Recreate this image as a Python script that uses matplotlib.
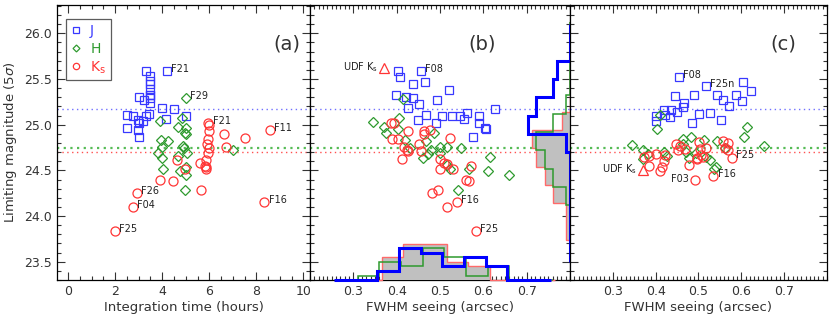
import numpy as np
import matplotlib
matplotlib.use('Agg')
import matplotlib.pyplot as plt
from matplotlib.ticker import MultipleLocator, FormatStrFormatter

# ---- panel (a): limiting magnitude vs integration time
j_time = [3.32, 4.20, 3.50, 3.50, 3.50, 3.50, 3.50, 3.46, 3.49, 3.02, 3.23, 3.46, 2.50,
          2.75, 2.96, 3.03, 3.17, 3.30, 3.43, 2.52, 2.96, 3.02, 4.01, 4.50, 4.17, 5.00]
j_mag_a = [25.59, 25.59, 25.53, 25.48, 25.44, 25.39, 25.33, 25.33, 25.29, 25.30, 25.27, 25.24, 25.11,
           25.09, 25.05, 25.02, 25.04, 25.10, 25.12, 24.96, 24.94, 24.87, 25.18, 25.17, 25.06, 25.09]
h_time = [5.02, 3.89, 4.86, 4.67, 5.02, 4.98, 5.02, 3.96, 4.23, 4.01, 4.87, 4.93, 5.04,
          3.84, 3.98, 4.69, 6.99, 4.05, 5.02, 4.77, 5.00, 4.98]
h_mag_a = [25.29, 25.04, 25.07, 24.97, 24.96, 24.91, 24.90, 24.83, 24.82, 24.76, 24.77, 24.74, 24.69,
           24.69, 24.64, 24.66, 24.72, 24.52, 24.54, 24.49, 24.45, 24.29]
k_time = [5.96, 5.97, 5.98, 5.94, 5.89, 5.98, 5.94, 6.61, 7.50, 6.72, 8.57, 5.60, 5.84,
          5.80, 5.88, 5.88, 4.98, 4.63, 3.90, 4.46, 5.65, 2.92, 2.75, 2.00, 8.34]
k_mag_a = [25.02, 25.00, 24.93, 24.84, 24.79, 24.74, 24.69, 24.90, 24.85, 24.76, 24.94, 24.58, 24.61,
           24.55, 24.52, 24.54, 24.52, 24.61, 24.40, 24.38, 24.29, 24.25, 24.10, 23.84, 24.15]

# ---- panel (b): limiting magnitude vs FWHM seeing
j_fwhm_b = [0.402, 0.456, 0.408, 0.437, 0.466, 0.520, 0.399, 0.421, 0.437, 0.452, 0.494, 0.425, 0.626,
            0.467, 0.450, 0.504, 0.491, 0.528, 0.547, 0.556, 0.562, 0.591, 0.591, 0.606, 0.604, 0.575]
j_mag_b = [25.59, 25.59, 25.52, 25.44, 25.47, 25.38, 25.33, 25.30, 25.29, 25.23, 25.27, 25.18, 25.17,
           25.11, 25.05, 25.09, 25.02, 25.10, 25.09, 25.06, 25.13, 25.10, 25.02, 24.95, 24.96, 24.87]
h_fwhm_b = [0.346, 0.414, 0.406, 0.371, 0.375, 0.404, 0.486, 0.420, 0.467, 0.431, 0.500, 0.517,
            0.548, 0.479, 0.499, 0.460, 0.472, 0.616, 0.568, 0.611, 0.658, 0.524, 0.541, 0.517]
h_mag_b = [25.03, 25.28, 25.07, 24.98, 24.91, 24.95, 24.91, 24.83, 24.82, 24.74, 24.76, 24.76,
           24.74, 24.72, 24.69, 24.64, 24.68, 24.65, 24.52, 24.49, 24.45, 24.51, 24.29, 24.56]
k_fwhm_b = [0.387, 0.393, 0.426, 0.462, 0.476, 0.464, 0.389, 0.402, 0.522, 0.451, 0.418, 0.424, 0.426, 0.456,
            0.413, 0.499, 0.510, 0.515, 0.500, 0.531, 0.572, 0.560, 0.568, 0.495, 0.481, 0.539, 0.515, 0.583]
k_mag_b = [25.02, 25.02, 24.93, 24.93, 24.94, 24.90, 24.84, 24.84, 24.85, 24.79, 24.76, 24.72, 24.71, 24.71,
           24.62, 24.62, 24.58, 24.57, 24.52, 24.52, 24.55, 24.40, 24.38, 24.29, 24.25, 24.15, 24.10, 23.84]
udf_fwhm_b = 0.37
udf_mag_b = 25.62

# ---- panel (c)
j_fwhm_c = [0.454, 0.517, 0.604, 0.623, 0.588, 0.544, 0.490, 0.446, 0.558, 0.602, 0.571, 0.467,
            0.464, 0.450, 0.436, 0.420, 0.422, 0.401, 0.402, 0.434, 0.501, 0.526, 0.486, 0.552]
j_mag_c = [25.52, 25.42, 25.47, 25.37, 25.33, 25.33, 25.33, 25.31, 25.27, 25.26, 25.21, 25.24,
           25.19, 25.14, 25.16, 25.16, 25.11, 25.10, 25.04, 25.08, 25.12, 25.13, 25.02, 25.05]
h_fwhm_c = [0.345, 0.403, 0.411, 0.613, 0.607, 0.654, 0.463, 0.483, 0.512, 0.543, 0.563, 0.370,
            0.382, 0.420, 0.427, 0.465, 0.470, 0.494, 0.478, 0.517, 0.526, 0.540, 0.371, 0.536]
h_mag_c = [24.78, 24.95, 25.11, 24.97, 24.86, 24.77, 24.84, 24.86, 24.83, 24.82, 24.74, 24.72,
           24.68, 24.70, 24.66, 24.79, 24.70, 24.69, 24.63, 24.65, 24.61, 24.54, 24.62, 24.52]
k_fwhm_c = [0.557, 0.568, 0.562, 0.568, 0.578, 0.447, 0.457, 0.453, 0.468, 0.503, 0.501, 0.517, 0.506, 0.511,
            0.497, 0.401, 0.385, 0.373, 0.421, 0.419, 0.416, 0.410, 0.385, 0.478, 0.496, 0.535, 0.491]
k_mag_c = [24.82, 24.80, 24.75, 24.72, 24.64, 24.79, 24.77, 24.72, 24.73, 24.73, 24.81, 24.75, 24.67, 24.65,
           24.64, 24.68, 24.66, 24.65, 24.67, 24.60, 24.54, 24.49, 24.55, 24.56, 24.62, 24.44, 24.39]
udf_fwhm_c = 0.37
udf_mag_c = 24.50

# median limits (dotted lines)
j_median = 25.17
h_median = 24.74
k_median = 24.70

# ---- histograms in panel (b): number of fields
j_seeing_edges = [0.255, 0.305, 0.355, 0.405, 0.455, 0.505, 0.555, 0.605, 0.655, 0.705, 0.755]
j_seeing_counts = [0, 0, 2, 7, 6, 3, 5, 3, 0, 0]
h_seeing_edges = [0.26, 0.31, 0.36, 0.41, 0.46, 0.51, 0.56, 0.61, 0.66, 0.71, 0.76]
h_seeing_counts = [0, 1, 4, 3, 7, 5, 1, 3, 0, 0]
k_seeing_edges = [0.265, 0.315, 0.365, 0.415, 0.465, 0.515, 0.565, 0.615, 0.665, 0.715, 0.765]
k_seeing_counts = [0, 0, 5, 8, 8, 4, 3, 0, 0, 0]

j_mag_edges = [23.5, 23.7, 23.9, 24.1, 24.3, 24.5, 24.7, 24.9, 25.1, 25.3, 25.5, 25.7, 25.9, 26.1]
j_mag_counts = [0, 0, 0, 0, 0, 0, 1, 10, 8, 4, 3, 0, 0]
h_mag_edges = [23.52, 23.72, 23.92, 24.12, 24.32, 24.52, 24.72, 24.92, 25.12, 25.32, 25.52, 25.72, 25.92, 26.12]
h_mag_counts = [0, 0, 0, 1, 4, 6, 8, 4, 1, 0, 0, 0, 0]
k_mag_edges = [23.54, 23.74, 23.94, 24.14, 24.34, 24.54, 24.74, 24.94, 25.14, 25.34, 25.54, 25.74, 25.94, 26.14]
k_mag_counts = [0, 1, 1, 4, 6, 8, 9, 2, 0, 0, 0, 0, 0]

CJ = '#3838ff'
CH = '#2e9a2e'
CK = '#ff3535'
TXT = '#333333'

plt.rcParams['font.family'] = ['DejaVu Sans']
plt.rcParams['text.color'] = TXT
plt.rcParams['axes.labelcolor'] = TXT
plt.rcParams['xtick.color'] = TXT
plt.rcParams['ytick.color'] = TXT

fig = plt.figure(figsize=(8.3, 3.23), dpi=100)
H = 0.8514
B = 0.1331
ax_a = fig.add_axes([0.0687, B, 0.3048, H])
ax_b = fig.add_axes([0.3735, B, 0.3133, H])
ax_c = fig.add_axes([0.6867, B, 0.3096, H])

YLIM = (23.3, 26.31)


def style(ax):
    ax.set_ylim(*YLIM)
    ax.yaxis.set_major_locator(MultipleLocator(0.5))
    ax.yaxis.set_minor_locator(MultipleLocator(0.1))
    ax.tick_params(which='both', direction='in', top=True, right=True, labelsize=9, width=0.8)
    ax.tick_params(which='major', length=6)
    ax.tick_params(which='minor', length=3)
    for s in ax.spines.values():
        s.set_linewidth(0.9)


def medians(ax):
    ax.axhline(j_median, color='#7070ff', ls=(0, (1, 2.5)), lw=1.0, zorder=1)
    ax.axhline(h_median, color='#55bb55', ls=(0, (1, 2)), lw=1.6, zorder=1)
    ax.axhline(k_median, color='#ff5050', ls=(0, (1, 2.5)), lw=1.0, zorder=1)


def points(ax, jx, jy, hx, hy, kx, ky):
    ax.plot(jx, jy, ls='none', marker='s', ms=5.5, mfc='none', mec=CJ, mew=0.9, label='J')
    ax.plot(hx, hy, ls='none', marker='D', ms=5.0, mfc='none', mec=CH, mew=0.9, label='H')
    ax.plot(kx, ky, ls='none', marker='o', ms=6.5, mfc='none', mec=CK, mew=0.9, label='K$_\\mathregular{s}$')


def tag(ax, x, y, s, left=False):
    if left:
        ax.annotate(s, (x, y), xytext=(-4, 1), textcoords='offset points',
                    ha='right', va='center', fontsize=7, color='#222222')
    else:
        ax.annotate(s, (x, y), xytext=(3, 1.5), textcoords='offset points',
                    ha='left', va='center', fontsize=7, color='#222222')


# (a)
style(ax_a)
medians(ax_a)
points(ax_a, j_time, j_mag_a, h_time, h_mag_a, k_time, k_mag_a)
ax_a.set_xlim(-0.47, 10.28)
ax_a.xaxis.set_major_locator(MultipleLocator(2))
ax_a.xaxis.set_minor_locator(MultipleLocator(0.5))
ax_a.yaxis.set_major_formatter(FormatStrFormatter('%.1f'))
ax_a.set_xlabel('Integration time (hours)', fontsize=9.5, labelpad=2)
ax_a.set_ylabel('Limiting magnitude (5$\\sigma$)', fontsize=9.5, labelpad=4)
ax_a.text(0.91, 0.86, '(a)', transform=ax_a.transAxes, fontsize=14, ha='center', va='center')
leg = ax_a.legend(loc='upper left', bbox_to_anchor=(0.035, 0.948), fontsize=10, frameon=True,
                  fancybox=False, edgecolor='#333333', handlelength=0.8, handletextpad=0.6,
                  borderpad=0.35, labelspacing=0.25, borderaxespad=0, markerscale=0.7,
                  labelcolor='markeredgecolor')
leg.get_frame().set_linewidth(0.9)
tag(ax_a, j_time[1], j_mag_a[1], 'F21')
tag(ax_a, h_time[0], h_mag_a[0], 'F29')
tag(ax_a, k_time[0], k_mag_a[0], 'F21')
tag(ax_a, k_time[10], k_mag_a[10], 'F11')
tag(ax_a, k_time[21], k_mag_a[21], 'F26')
tag(ax_a, k_time[22], k_mag_a[22], 'F04')
tag(ax_a, k_time[23], k_mag_a[23], 'F25')
tag(ax_a, k_time[24], k_mag_a[24], 'F16')

for ax in (ax_b, ax_c):
    style(ax)
    medians(ax)
    ax.set_xlim(0.2, 0.8)
    ax.set_xticks([0.3, 0.4, 0.5, 0.6, 0.7])
    ax.xaxis.set_major_formatter(FormatStrFormatter('%.1f'))
    ax.xaxis.set_minor_locator(MultipleLocator(0.01))
    ax.set_yticklabels([])
    ax.set_xlabel('FWHM seeing (arcsec)', fontsize=9.5, labelpad=2)

# (b)
points(ax_b, j_fwhm_b, j_mag_b, h_fwhm_b, h_mag_b, k_fwhm_b, k_mag_b)
ax_b.plot(udf_fwhm_b, udf_mag_b, ls='none', marker='^', ms=7, mfc='none', mec=CK, mew=0.9)
ax_b.text(0.66, 0.86, '(b)', transform=ax_b.transAxes, fontsize=14, ha='center', va='center')
tag(ax_b, j_fwhm_b[1], j_mag_b[1], 'F08')
tag(ax_b, k_fwhm_b[25], k_mag_b[25], 'F16')
tag(ax_b, k_fwhm_b[27], k_mag_b[27], 'F25')
tag(ax_b, udf_fwhm_b, udf_mag_b, 'UDF K$_\\mathregular{s}$', left=True)

# histograms of seeing (bottom) and depth (right)
hx = ax_b.inset_axes([0, 0, 1, 1])
hx.set_xlim(0.2, 0.8)
hx.set_ylim(0, 61)
hx.stairs(k_seeing_counts, k_seeing_edges, fill=True, color='#c0c0c0', lw=0)
hx.stairs(k_seeing_counts, k_seeing_edges, color='#ff6a6a', lw=1.0, clip_on=False)
hx.stairs(h_seeing_counts, h_seeing_edges, color=CH, lw=1.1, clip_on=False)
hx.stairs(j_seeing_counts, j_seeing_edges, color='#0000ff', lw=2.2, clip_on=False)
hx.axis('off')

hy = ax_b.inset_axes([0, 0, 1, 1])
hy.set_ylim(*YLIM)
hy.set_xlim(62, 0)
hy.stairs(k_mag_counts, k_mag_edges, orientation='horizontal', fill=True, color='#c0c0c0', lw=0)
hy.stairs(k_mag_counts, k_mag_edges, orientation='horizontal', color='#ff6a6a', lw=1.0, clip_on=False)
hy.stairs(h_mag_counts, h_mag_edges, orientation='horizontal', color=CH, lw=1.1, clip_on=False)
hy.stairs(j_mag_counts, j_mag_edges, orientation='horizontal', color='#0000ff', lw=2.2, clip_on=False)
hy.axis('off')

# (c)
points(ax_c, j_fwhm_c, j_mag_c, h_fwhm_c, h_mag_c, k_fwhm_c, k_mag_c)
ax_c.plot(udf_fwhm_c, udf_mag_c, ls='none', marker='^', ms=7, mfc='none', mec=CK, mew=0.9)
ax_c.text(0.83, 0.86, '(c)', transform=ax_c.transAxes, fontsize=14, ha='center', va='center')
tag(ax_c, j_fwhm_c[0], j_mag_c[0], 'F08')
tag(ax_c, j_fwhm_c[1], j_mag_c[1], 'F25n')
tag(ax_c, k_fwhm_c[4], k_mag_c[4], 'F25')
tag(ax_c, k_fwhm_c[25], k_mag_c[25], 'F16')
tag(ax_c, k_fwhm_c[26], k_mag_c[26], 'F03', left=True)
tag(ax_c, udf_fwhm_c, udf_mag_c, 'UDF K$_\\mathregular{s}$', left=True)

fig.savefig('out.png', dpi=100)
